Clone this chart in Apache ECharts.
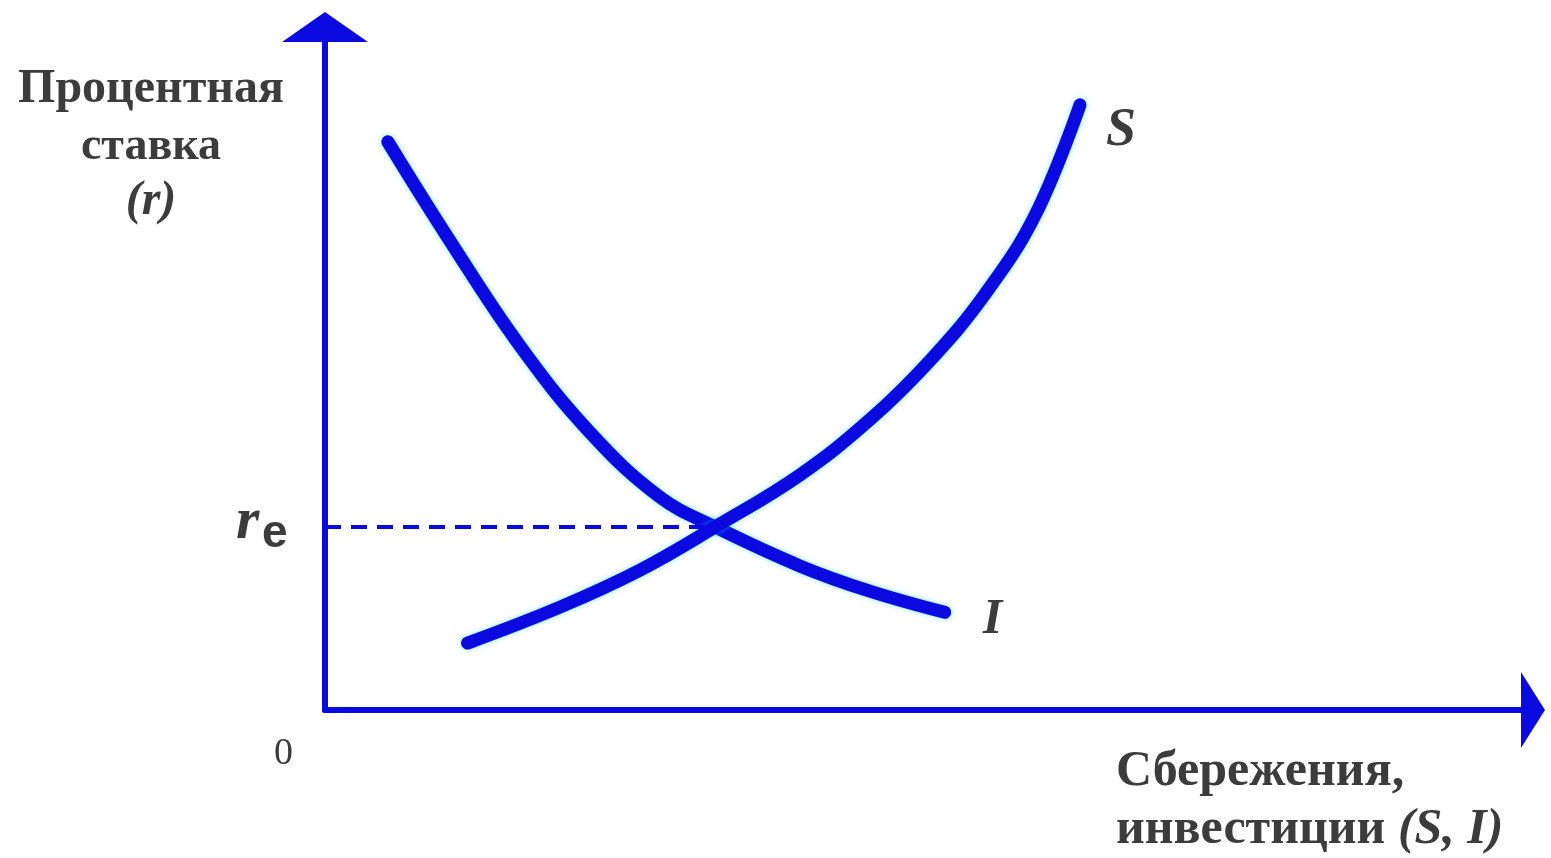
<!DOCTYPE html>
<html><head><meta charset="utf-8">
<script src="https://cdn.jsdelivr.net/npm/echarts@6/dist/echarts.min.js"></script>
<style>html,body{margin:0;padding:0;background:#fff}#c{width:1551px;height:858px}</style>
</head><body><div id="c"></div>
<script>
// Investment demand curve I (x = S,I quantity, y = interest rate r)
const investX = [5.2, 10.3, 16.1, 21.9, 27.7, 32.3, 39.3, 45.1, 51.3];
const investY = [83.2, 68.8, 53.4, 40.7, 31.2, 26.8, 21.1, 17.4, 14.3];
// Savings supply curve S
const saveX = [11.8, 19.5, 26.1, 32.3, 39.3, 45.1, 50.1, 54.6, 58.8, 62.5];
const saveY = [9.8, 15.1, 20.5, 26.8, 34.4, 42.5, 51.2, 60.8, 72.5, 88.6];
// Equilibrium point (x, r_e)
const equilibrium = [32.3, 26.8];
const labels = { yName: ['Процентная', 'ставка', '(r)'], xName: ['Сбережения,', 'инвестиции '], xNameVars: '(S, I)', origin: '0' };

const BLUE = '#0a0ae0';
const TXT = '#3c3c3c';
const FONT = '"Liberation Serif", "DejaVu Serif", serif';

const chart = echarts.init(document.getElementById('c'));
chart.setOption({
  backgroundColor: '#ffffff',
  animation: false,
  grid: { left: 325, right: 18, top: 27, bottom: 148 },
  xAxis: {
    type: 'value', min: 0, max: 100,
    axisLine: { show: true, lineStyle: { color: BLUE, width: 6 }, symbol: ['none', 'triangle'], symbolSize: [76, 24] },
    axisTick: { show: false }, axisLabel: { show: false }, splitLine: { show: false }
  },
  yAxis: {
    type: 'value', min: 0, max: 100,
    axisLine: { show: true, lineStyle: { color: BLUE, width: 6 }, symbol: ['none', 'triangle'], symbolSize: [86, 30] },
    axisTick: { show: false }, axisLabel: { show: false }, splitLine: { show: false }
  },
  series: [
    {
      name: 'I', type: 'line', smooth: 0.4, symbol: 'none',
      data: investX.map((x, i) => [x, investY[i]]),
      lineStyle: { color: BLUE, width: 13, cap: 'round', shadowColor: 'rgba(0,210,255,0.55)', shadowBlur: 5 },
      endLabel: { show: true, formatter: 'I', offset: [30, 8], fontFamily: FONT, fontSize: 50, fontWeight: 'bold', fontStyle: 'italic', color: TXT },
      markLine: {
        silent: true, symbol: ['none', 'none'],
        lineStyle: { color: BLUE, width: 4, type: [16, 10] },
        label: { show: false },
        data: [[{ coord: [0, equilibrium[1]] }, { coord: [equilibrium[0], equilibrium[1]] }]]
      }
    },
    {
      name: 'S', type: 'line', smooth: 0.4, symbol: 'none',
      data: saveX.map((x, i) => [x, saveY[i]]),
      lineStyle: { color: BLUE, width: 13, cap: 'round', shadowColor: 'rgba(0,210,255,0.55)', shadowBlur: 5 },
      endLabel: { show: true, formatter: 'S', offset: [18, 26], fontFamily: FONT, fontSize: 54, fontWeight: 'bold', fontStyle: 'italic', color: TXT }
    }
  ],
  graphic: [
    { type: 'text', x: 151, y: 66, style: { text: labels.yName[0], font: 'bold 48px ' + FONT, fill: TXT, align: 'center' } },
    { type: 'text', x: 151, y: 124, style: { text: labels.yName[1], font: 'bold 46px ' + FONT, fill: TXT, align: 'center' } },
    { type: 'text', x: 151, y: 178, style: { text: labels.yName[2], font: 'italic bold 48px ' + FONT, fill: TXT, align: 'center' } },
    { type: 'text', x: 236, y: 492, style: { text: 'r', font: 'italic bold 60px ' + FONT, fill: TXT } },
    { type: 'text', x: 262, y: 511, style: { text: 'e', font: 'bold 46px "Liberation Sans", sans-serif', fill: TXT } },
    { type: 'text', x: 274, y: 735, style: { text: labels.origin, font: '38px ' + FONT, fill: TXT } },
    { type: 'text', x: 1116, y: 747, style: { text: labels.xName[0], font: 'bold 50px ' + FONT, fill: TXT } },
    { type: 'text', x: 1116, y: 805, style: {
        text: '{n|' + labels.xName[1] + '}{v|' + labels.xNameVars + '}',
        rich: {
          n: { font: 'bold 50px ' + FONT, fill: TXT, color: TXT },
          v: { font: 'italic bold 50px ' + FONT, fill: TXT, color: TXT }
        }
    } }
  ]
});
</script></body></html>
